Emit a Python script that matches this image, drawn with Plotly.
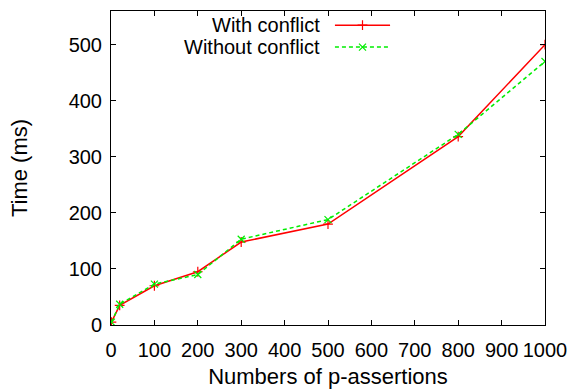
import plotly.graph_objects as go

# Data
x_vals = [1, 20, 100, 200, 300, 500, 800, 1000]
with_conflict = [5, 35, 70, 95, 148, 180, 336, 500]
without_conflict = [5, 37, 73, 90, 153, 188, 340, 470]
series_names = ["With conflict", "Without conflict"]
x_ticks = [0, 100, 200, 300, 400, 500, 600, 700, 800, 900, 1000]
y_ticks = [0, 100, 200, 300, 400, 500]

RED = "#ff0000"
GREEN = "#00ee00"
FONT = "Liberation Sans, Arial, sans-serif"

fig = go.Figure()
fig.add_trace(go.Scatter(
    x=x_vals, y=with_conflict, mode="lines+markers", name=series_names[0],
    line=dict(color=RED, width=1.5),
    marker=dict(symbol="cross-thin", size=7, line=dict(color=RED, width=1.2)),
    showlegend=False))
fig.add_trace(go.Scatter(
    x=x_vals, y=without_conflict, mode="lines+markers", name=series_names[1],
    line=dict(color=GREEN, width=1.5, dash="4px,3px"),
    marker=dict(symbol="x-thin", size=7, line=dict(color=GREEN, width=1.2)),
    showlegend=False))

# gnuplot-style legend: text on the left, sample on the right
legend_rows = [0.955, 0.885]
styles = [
    (RED, "solid", "cross-thin"),
    (GREEN, "4px,3px", "x-thin"),
]
for name, yy, (col, dash, sym) in zip(series_names, legend_rows, styles):
    fig.add_trace(go.Scatter(
        x=[0.516, 0.5795, 0.643], y=[yy, yy, yy], xaxis="x2", yaxis="y2",
        mode="lines", line=dict(color=col, width=1.5, dash=dash),
        showlegend=False, hoverinfo="skip"))
    fig.add_trace(go.Scatter(
        x=[0.5795], y=[yy], xaxis="x2", yaxis="y2", mode="markers",
        marker=dict(symbol=sym, size=7, line=dict(color=col, width=1.2)),
        showlegend=False, hoverinfo="skip"))
    fig.add_annotation(x=0.486, y=yy, xref="paper", yref="paper", text=name,
                       showarrow=False, xanchor="right", yanchor="middle",
                       font=dict(family=FONT, size=20, color="black"))

axis_common = dict(showline=True, linecolor="black", linewidth=1, mirror="ticks",
                   ticks="inside", ticklen=5, tickcolor="black", tickwidth=1,
                   showgrid=False, zeroline=False, automargin=False,
                   tickfont=dict(family=FONT, size=20, color="black"))

fig.update_layout(
    width=577, height=391,
    margin=dict(l=111, r=32, t=11, b=66),
    paper_bgcolor="white", plot_bgcolor="white",
    showlegend=False,
    xaxis=dict(range=[0, 1000], tickvals=x_ticks, ticklabelstandoff=7,
               title=dict(text="Numbers of p-assertions", standoff=8,
                          font=dict(family=FONT, size=22, color="black")),
               **axis_common),
    yaxis=dict(range=[0, 560], tickvals=y_ticks, ticklabelstandoff=4,
               title=dict(text="Time (ms)", standoff=34,
                          font=dict(family=FONT, size=22, color="black")),
               **axis_common),
    xaxis2=dict(range=[0, 1], overlaying="x", visible=False),
    yaxis2=dict(range=[0, 1], overlaying="y", visible=False),
)

fig.write_html("out.html")
